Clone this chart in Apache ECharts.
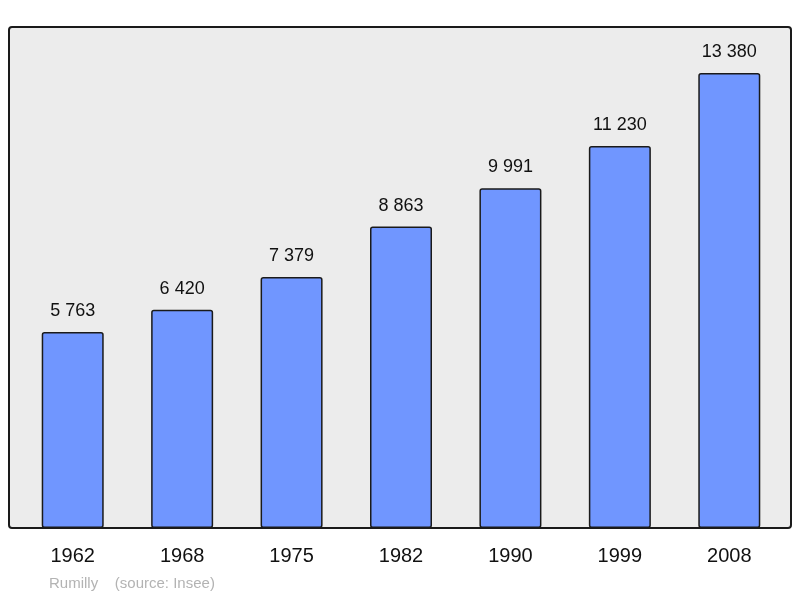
<!DOCTYPE html>
<html>
<head>
<meta charset="utf-8">
<script src="https://cdn.jsdelivr.net/npm/echarts@6/dist/echarts.min.js"></script>
<style>html,body{margin:0;padding:0;background:#fff}#chart{width:800px;height:598px}</style>
</head>
<body>
<div id="chart"></div>
<script>
const years = ['1962', '1968', '1975', '1982', '1990', '1999', '2008'];
const population = [5763, 6420, 7379, 8863, 9991, 11230, 13380];

let myChart = echarts.init(document.getElementById('chart'));

function fmt(v)
{
    return String(v).replace(/\B(?=(\d{3})+(?!\d))/g, ' ');
}

let option = {
    animation: false,
    textStyle: {fontFamily: 'Liberation Sans, Arial, sans-serif'},
    graphic: [
        {
            type: 'rect',
            z: -10,
            shape: {x: 9, y: 27, width: 782, height: 501, r: 3},
            style: {fill: '#ececec', stroke: '#1a1a1a', lineWidth: 2}
        },
        {
            type: 'text',
            left: 49, top: 576,
            style: {text: 'Rumilly    (source: Insee)', fill: '#b3b3b3', font: '15px Liberation Sans, Arial, sans-serif'}
        }
    ],
    grid: {left: 18, right: 16, top: 27, height: 501},
    xAxis: {
        type: 'category',
        data: years,
        axisLine: {show: false},
        axisTick: {show: false},
        axisLabel: {color: '#111', fontSize: 20, margin: 18}
    },
    yAxis: {
        type: 'value',
        min: 0,
        max: 14733,
        show: false,
        splitLine: {show: false}
    },
    series: [{
        type: 'bar',
        data: population,
        barWidth: 62,
        itemStyle: {color: '#7096ff', borderColor: '#1a1a1a', borderWidth: 1.5, borderRadius: 2},
        label: {
            show: true,
            position: 'top',
            distance: 12,
            color: '#111',
            fontSize: 18,
            formatter: p => fmt(p.value)
        }
    }]
};

myChart.setOption(option);
</script>
</body>
</html>
